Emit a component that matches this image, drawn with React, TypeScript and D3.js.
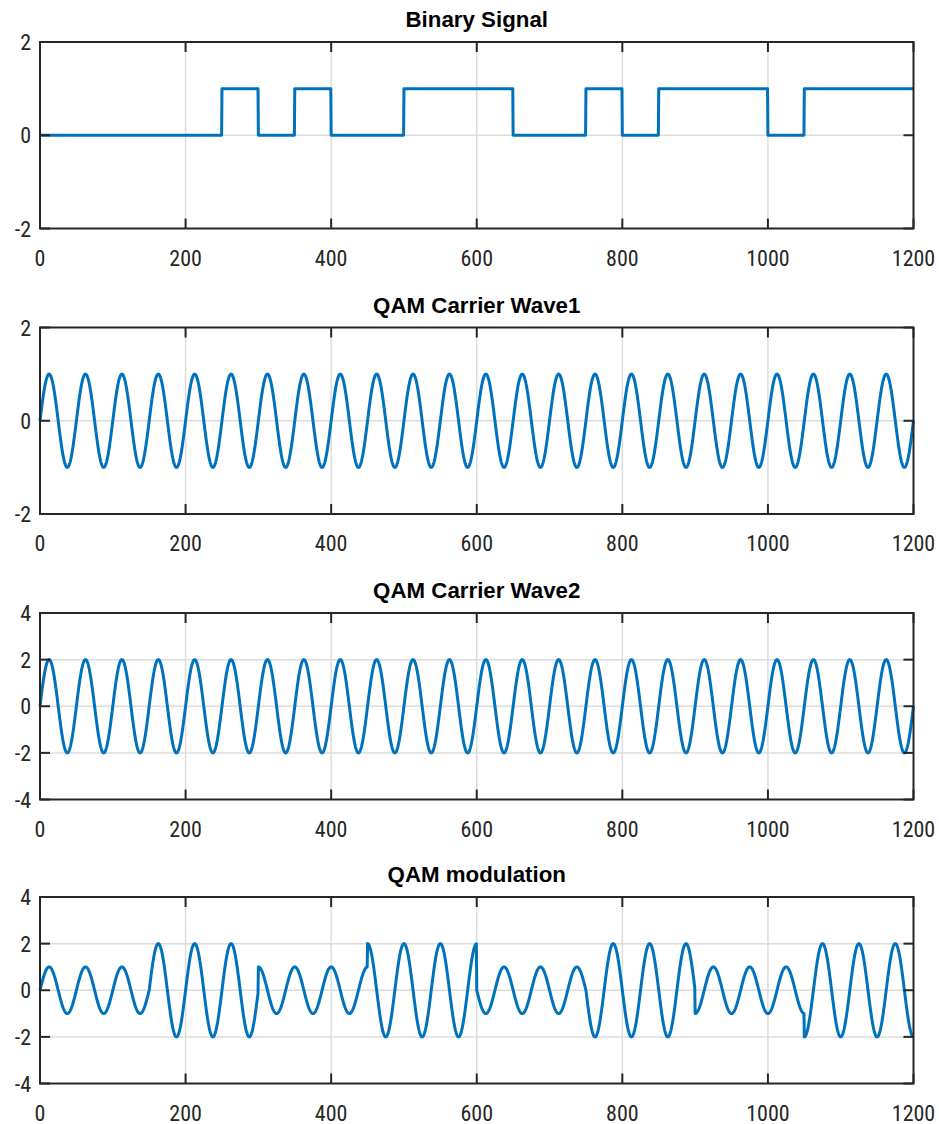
import React from "react";
import * as d3 from "d3";

// ---- data ----
const bits = [0, 0, 0, 0, 0, 1, 0, 1, 0, 0, 1, 1, 1, 0, 0, 1, 0, 1, 1, 1, 0, 1, 1, 1];
const bitLength = 50; // samples per bit
const carrierPeriod = 50; // samples per carrier cycle
const carrier1Amplitude = 1;
const carrier2Amplitude = 2;
const symbolLength = 150; // samples per 3-bit symbol
const symbolAmplitude = [1, 2, 1, 2, 1, 2, 1, 2];
const symbolPhaseDeg = [0, 0, 90, 90, 180, 180, 270, 270];
const xTicks = [0, 200, 400, 600, 800, 1000, 1200];
const yTicksSmall = [-2, 0, 2];
const yTicksLarge = [-4, -2, 0, 2, 4];
const titles = ["Binary Signal", "QAM Carrier Wave1", "QAM Carrier Wave2", "QAM modulation"];
const tMax = 1200;

const samples = d3.range(0, tMax + 0.001, 0.5);

const binarySeries = samples.map((t) => [t, bits[Math.min(bits.length - 1, Math.floor(t / bitLength))]]);
const wave1Series = samples.map((t) => [t, carrier1Amplitude * Math.sin((2 * Math.PI * t) / carrierPeriod)]);
const wave2Series = samples.map((t) => [t, carrier2Amplitude * Math.sin((2 * Math.PI * t) / carrierPeriod)]);
const qamSeries = samples.map((t) => {
  const s = Math.min(symbolAmplitude.length - 1, Math.floor(t / symbolLength));
  return [t, symbolAmplitude[s] * Math.sin((2 * Math.PI * t) / carrierPeriod + (symbolPhaseDeg[s] * Math.PI) / 180)];
});

const panels = [
  { title: titles[0], data: binarySeries, domain: [-2, 2], yTicks: yTicksSmall, top: 42 },
  { title: titles[1], data: wave1Series, domain: [-2, 2], yTicks: yTicksSmall, top: 327.5 },
  { title: titles[2], data: wave2Series, domain: [-4, 4], yTicks: yTicksLarge, top: 613 },
  { title: titles[3], data: qamSeries, domain: [-4, 4], yTicks: yTicksLarge, top: 897 },
];

const W = 939;
const H = 1124;
const left = 40;
const right = 913.5;
const panelH = 186.5;
const tickLen = 10;
const font = "'Liberation Sans Narrow', 'Arial Narrow', 'Roboto Condensed', 'Liberation Sans', Arial, sans-serif";
const titleFont = "'Liberation Sans', Arial, sans-serif";
const frameColor = "#262626";
const gridColor = "#dcdcdc";
const lineColor = "#0072BD";

function Panel({ p }: { p: any }) {
  const x = d3.scaleLinear().domain([0, tMax]).range([left, right]);
  const y = d3.scaleLinear().domain(p.domain).range([p.top + panelH, p.top]);
  const line = d3
    .line<number[]>()
    .x((d) => x(d[0]))
    .y((d) => y(d[1]));
  const bottom = p.top + panelH;
  const cx = (left + right) / 2;
  return (
    <g>
      <rect x={left} y={p.top} width={right - left} height={panelH} fill="#fff" />
      {xTicks.slice(1, -1).map((t) => (
        <line key={"gx" + t} x1={x(t)} x2={x(t)} y1={p.top} y2={bottom} stroke={gridColor} strokeWidth={1.5} />
      ))}
      {p.yTicks.slice(1, -1).map((t: number) => (
        <line key={"gy" + t} x1={left} x2={right} y1={y(t)} y2={y(t)} stroke={gridColor} strokeWidth={1.5} />
      ))}
      <path d={line(p.data) || ""} fill="none" stroke={lineColor} strokeWidth={3} strokeLinejoin="round" />
      {xTicks.map((t) => (
        <g key={"tx" + t}>
          <line x1={x(t)} x2={x(t)} y1={bottom} y2={bottom - tickLen} stroke={frameColor} strokeWidth={2} />
          <line x1={x(t)} x2={x(t)} y1={p.top} y2={p.top + tickLen} stroke={frameColor} strokeWidth={2} />
          <text x={x(t)} y={bottom + 37} textAnchor="middle" fontFamily={font} fontSize={22} fill={frameColor}>
            {String(t)}
          </text>
        </g>
      ))}
      {p.yTicks.map((t: number) => (
        <g key={"ty" + t}>
          <line x1={left} x2={left + tickLen} y1={y(t)} y2={y(t)} stroke={frameColor} strokeWidth={2} />
          <line x1={right} x2={right - tickLen} y1={y(t)} y2={y(t)} stroke={frameColor} strokeWidth={2} />
          <text x={31} y={y(t) + 8} textAnchor="end" fontFamily={font} fontSize={22} fill={frameColor}>
            {t < 0 ? "-" + Math.abs(t) : String(t)}
          </text>
        </g>
      ))}
      <rect x={left} y={p.top} width={right - left} height={panelH} fill="none" stroke={frameColor} strokeWidth={2} />
      <g transform={`translate(${cx},${p.top - 15}) scale(0.97,1)`}>
        <text x={0} y={0} textAnchor="middle" fontFamily={titleFont} fontWeight="bold" fontSize={23} fill="#000">
          {p.title}
        </text>
      </g>
    </g>
  );
}

export default function App() {
  return (
    <svg width={W} height={H} style={{ position: "absolute", left: 0, top: 0, background: "#fff" }}>
      <rect width={W} height={H} fill="#fff" />
      {panels.map((p, i) => (
        <Panel key={i} p={p} />
      ))}
    </svg>
  );
}
